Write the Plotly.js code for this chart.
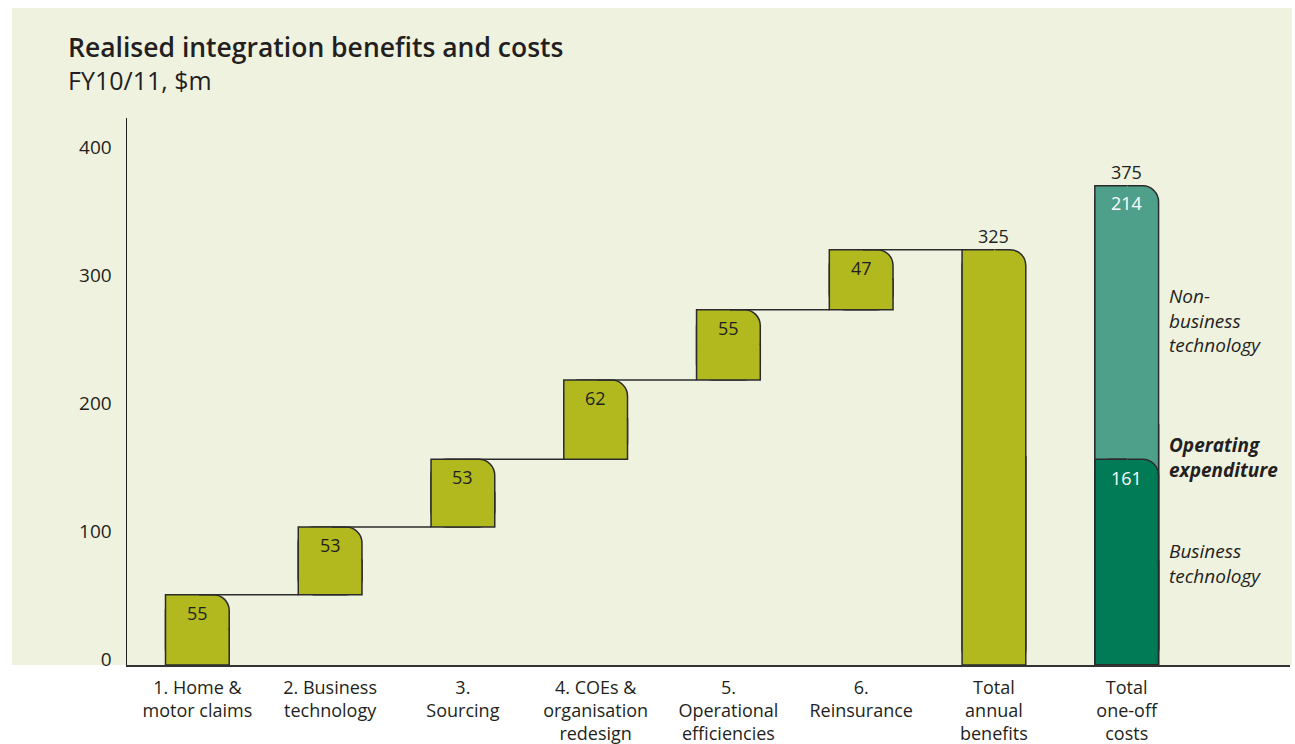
<!DOCTYPE html>
<html>
<head>
<meta charset="utf-8">
<script src="https://cdn.plot.ly/plotly-3.0.1.min.js"></script>
<style>html,body{margin:0;padding:0;background:#fff;}#chart{width:1295px;height:744px;}</style>
</head>
<body>
<div id="chart"></div>
<script>
// ---- data ----
const categories = ['1. Home &<br>motor claims', '2. Business<br>technology', '3.<br>Sourcing',
  '4. COEs &<br>organisation<br>redesign', '5.<br>Operational<br>efficiencies', '6.<br>Reinsurance',
  'Total<br>annual<br>benefits', 'Total<br>one-off<br>costs'];
const benefits = [55, 53, 53, 62, 55, 47];
const totalBenefits = 325;
const costLabels = ['Business<br>technology', 'Non-<br>business<br>technology'];
const costs = [161, 214];
const totalCosts = 375;
const yTicks = [0, 100, 200, 300, 400];

// ---- styling ----
const OLIVE = '#b1b91f', TEAL = '#4fa08a', DGREEN = '#007b55', CREAM = '#f0f2e0', INK = '#2b2b2b', TXT = '#231f20';
const FONT = 'Open Sans, Noto Sans, sans-serif';
const BW = 0.48, HALF = BW / 2, R = 16;

// derived
const nB = benefits.length;
const bases = [], tops = [];
let acc = 0;
benefits.forEach(v => { bases.push(acc); acc += v; tops.push(acc); });
const xB = benefits.map((_, i) => i).concat([nB]);
const baseB = bases.concat([0]);
const valB = benefits.concat([totalBenefits]);
const xC = nB + 1;

const traces = [];
const ox = [], oy = [];
// a bar with only its top-right corner rounded: rounded bar + square overlays + outline
function addBars(xs, vals, bs, color) {
  traces.push({type:'bar', x:xs, y:vals, base:bs, width:BW, hoverinfo:'skip',
    marker:{color:color, cornerradius:R, line:{color:INK, width:1.5}}, showlegend:false});
  // left half, full height
  traces.push({type:'bar', x:xs, y:vals, base:bs, width:HALF + 0.01, offset:-HALF, hoverinfo:'skip',
    marker:{color:color, line:{width:0}}, showlegend:false});
  // bottom half, full width
  traces.push({type:'bar', x:xs, y:vals.map(v => v / 2), base:bs, width:BW, hoverinfo:'skip',
    marker:{color:color, line:{width:0}}, showlegend:false});
  xs.forEach((x, i) => {
    const b = bs[i], t = bs[i] + vals[i];
    ox.push(x, x - HALF, x - HALF, x + HALF, x + HALF, null);
    oy.push(t, t, b, b, b + vals[i] / 2 + 1, null);
  });
}
addBars(xB, valB, baseB, OLIVE);
addBars([xC], [costs[0] + costs[1]], [0], TEAL);
addBars([xC], [costs[0]], [0], DGREEN);
// connectors
for (let i = 0; i < nB; i++) {
  ox.push(i, i + 1 - HALF, null);
  oy.push(tops[i], tops[i], null);
}
traces.push({type:'scatter', mode:'lines', x:ox, y:oy, line:{color:INK, width:1.5}, hoverinfo:'skip', showlegend:false});

const ann = [];
const vf = {family:FONT, size:18, color:TXT};
benefits.forEach((v, i) => ann.push({x:i, y:tops[i], xref:'x', yref:'y', text:String(v), showarrow:false,
  yanchor:'top', yshift:-4, font:vf}));
ann.push({x:nB, y:totalBenefits, xref:'x', yref:'y', text:String(totalBenefits), showarrow:false,
  yanchor:'bottom', yshift:0, font:vf});
ann.push({x:xC, y:totalCosts, xref:'x', yref:'y', text:String(totalCosts), showarrow:false,
  yanchor:'bottom', yshift:0, font:vf});
ann.push({x:xC, y:costs[0] + costs[1], xref:'x', yref:'y', text:String(costs[1]), showarrow:false,
  yanchor:'top', yshift:-3, font:{family:FONT, size:18, color:'#ffffff'}});
ann.push({x:xC, y:costs[0], xref:'x', yref:'y', text:String(costs[0]), showarrow:false,
  yanchor:'top', yshift:-5, font:{family:FONT, size:18, color:'#ffffff'}});
const sf = {family:FONT, size:19, color:TXT};
ann.push({x:xC, y:costs[0] + costs[1] / 2, xref:'x', yref:'y', text:'<i>' + costLabels[1] + '</i>', showarrow:false,
  xanchor:'left', align:'left', xshift:40, yshift:2, font:sf});
ann.push({x:xC, y:costs[0], xref:'x', yref:'y', text:'<b><i>Operating<br>expenditure</i></b>', showarrow:false,
  xanchor:'left', align:'left', xshift:40, yshift:2, font:sf});
ann.push({x:xC, y:costs[0] / 2, xref:'x', yref:'y', text:'<i>' + costLabels[0] + '</i>', showarrow:false,
  xanchor:'left', align:'left', xshift:40, yshift:-1, font:sf});

const L = 127, Rr = 5, T = 118, B = 79;
const pw = 1295 - L - Rr, ph = 744 - T - B;
ann.push({x:(68 - L) / pw, y:(665 - 80) / ph, xref:'paper', yref:'paper', text:'FY10/11, $m', showarrow:false,
  xanchor:'left', yanchor:'middle', xshift:-2, font:{family:FONT, size:25, color:TXT}});

const layout = {
  width:1295, height:744,
  margin:{l:L, r:Rr, t:T, b:B, pad:0},
  paper_bgcolor:'#ffffff', plot_bgcolor:CREAM,
  barmode:'overlay',
  font:{family:FONT, color:TXT},
  title:{text:'Realised integration benefits and costs', x:68 / 1295, xref:'container', xanchor:'left',
    y:1 - 48 / 744, yref:'container', yanchor:'middle', font:{family:FONT, size:26.5, weight:600, color:TXT}},
  xaxis:{type:'linear', range:[-0.53, 8.23], tickvals:categories.map((_, i) => i), ticktext:categories,
    showgrid:false, zeroline:false, showline:true, linecolor:'#333333', linewidth:2, ticks:'',
    tickfont:{family:FONT, size:18, color:TXT}, ticklabelstandoff:5, fixedrange:true},
  yaxis:{range:[0, 428], tickvals:yTicks, ticktext:yTicks.map(String), showgrid:false, zeroline:false,
    showline:true, linecolor:'#222222', linewidth:1.5, ticks:'', ticklabelstandoff:10, ticklabelshift:-6,
    tickfont:{family:FONT, size:19, color:TXT}, fixedrange:true},
  shapes:[{type:'rect', xref:'paper', yref:'paper', layer:'below',
    x0:(12 - L) / pw, x1:(1292 - L) / pw, y0:0, y1:(665 - 8) / ph,
    fillcolor:CREAM, line:{width:0}}],
  annotations:ann
};

Plotly.newPlot('chart', traces, layout, {displayModeBar:false, staticPlot:true});
</script>
</body>
</html>
